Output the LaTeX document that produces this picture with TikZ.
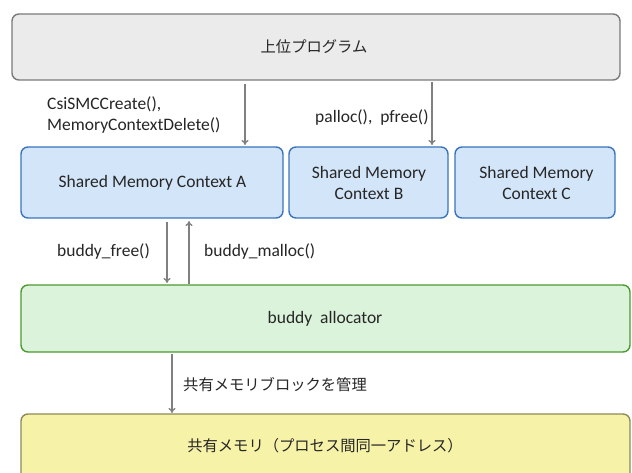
\documentclass[tikz,border=0pt]{standalone}
\usepackage{fontspec}
\setmainfont{Carlito}
\newfontfamily\jp{Noto Sans CJK JP}
\usetikzlibrary{arrows.meta}
\definecolor{grayfill}{HTML}{EBEBEB}
\definecolor{grayline}{HTML}{7A7A7A}
\definecolor{bluefill}{HTML}{D3E5F8}
\definecolor{blueline}{HTML}{3A75BC}
\definecolor{greenfill}{HTML}{DBF3DB}
\definecolor{greenline}{HTML}{4A9A30}
\definecolor{yellowfill}{HTML}{F6F3A8}
\definecolor{yellowline}{HTML}{8C8A55}
\definecolor{arrowgray}{HTML}{808080}
\definecolor{txt}{HTML}{262626}
\begin{document}
\begin{tikzpicture}[x=1pt,y=-1pt,
  boxbase/.style={rounded corners=7pt, line width=1.4pt},
  graybox/.style={boxbase, draw=grayline, fill=grayfill},
  bluebox/.style={boxbase, draw=blueline, fill=bluefill},
  greenbox/.style={boxbase, draw=greenline, fill=greenfill},
  yellowbox/.style={boxbase, draw=yellowline, fill=yellowfill},
  conn/.style={draw=arrowgray, line width=1.3pt, -{To[length=5pt,width=7pt]}},
  lbl/.style={text=txt, font=\fontsize{17.5}{21.5}\selectfont, inner sep=0pt},
  jplbl/.style={text=txt, font=\jp\fontsize{15.3}{19}\selectfont, inner sep=0pt}
]
\useasboundingbox (0,0) rectangle (632,473);
\fill[white] (0,0) rectangle (632,473);

\draw[graybox] (12,14) rectangle (620,80);
\node[jplbl] (top) at (314,47) {上位プログラム};
\coordinate (topA) at (245,84);
\coordinate (topB) at (432,82);

\draw[bluebox] (21,147) rectangle (283,218);
\node[lbl] (A) at (152.5,183) {Shared Memory Context A};
\draw[bluebox] (289,147) rectangle (448,218);
\node[lbl, align=center] (B) at (369,183) {Shared Memory\\Context B};
\draw[bluebox] (455,147) rectangle (615,218);
\node[lbl, align=center] (C) at (536.5,183) {Shared Memory\\Context C};

\coordinate (Atop) at (245,145);
\coordinate (Btop) at (432,145);
\draw[conn] (topA) -- (Atop);
\draw[conn] (topB) -- (Btop);

\node[lbl, anchor=west, align=left] (l1) at (47,115) {CsiSMCCreate(),\\MemoryContextDelete()};
\node[lbl, anchor=west] (l2) at (315,118) {palloc(),\ \ pfree()};

\draw[greenbox] (21,285) rectangle (630,352);
\node[lbl] (bud) at (325,319) {buddy\ \ allocator};

\coordinate (Afree) at (167,222);
\coordinate (Gfree) at (167,283);
\coordinate (Amal) at (189,221);
\coordinate (Gmal) at (189,284);
\draw[conn] (Afree) -- (Gfree);
\draw[conn] (Gmal) -- (Amal);
\node[lbl, anchor=west] (l3) at (57,252) {buddy\_free()};
\node[lbl, anchor=west] (l4) at (204,252) {buddy\_malloc()};

\draw[yellowbox] (21,414) rectangle (630,495);
\node[jplbl] (mem) at (325,446) {共有メモリ（プロセス間同一アドレス）};

\coordinate (Gbot) at (172,354);
\coordinate (Ytop) at (172,413);
\draw[conn] (Gbot) -- (Ytop);
\node[jplbl, anchor=west] (l5) at (183,385) {共有メモリブロックを管理};
\end{tikzpicture}
\end{document}
